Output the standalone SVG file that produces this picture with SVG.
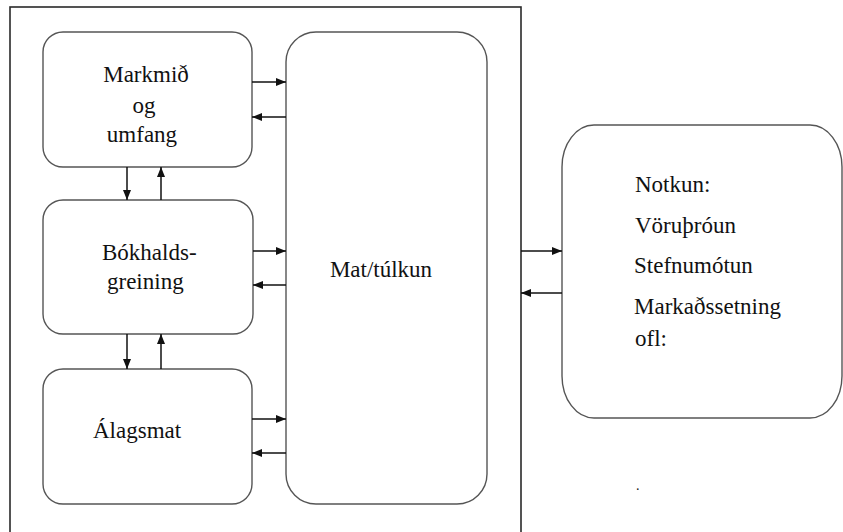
<svg xmlns="http://www.w3.org/2000/svg" width="843" height="532" viewBox="0 0 843 532">
  <style>
    .box { fill: #ffffff; stroke: #555555; stroke-width: 1.4; }
    .frame { fill: none; stroke: #2a2a2a; stroke-width: 1.6; }
    .link { fill: none; stroke: #111111; stroke-width: 1.5; marker-end: url(#head); }
    .label { font-family: 'Liberation Serif', 'Times New Roman', serif; font-size: 23px; fill: #111111; }
    .mid { text-anchor: middle; }
  </style>
  <defs>
    <marker id="head" viewBox="0 0 10 10" refX="10" refY="5" markerWidth="10" markerHeight="8" markerUnits="userSpaceOnUse" orient="auto" preserveAspectRatio="none">
      <path d="M0,0 L10,5 L0,10 Z" fill="#111111"/>
    </marker>
  </defs>
  <rect width="843" height="532" fill="#ffffff"/>

  <!-- enclosing frame around the analysis steps -->
  <rect class="frame" x="10" y="7" width="511" height="540"/>

  <g id="markmid">
    <rect class="box" x="43" y="32" width="209" height="135" rx="20" ry="20"/>
    <text class="label mid" x="146" y="82">Markmið</text>
    <text class="label mid" x="144" y="113">og</text>
    <text class="label mid" x="142" y="142">umfang</text>
  </g>

  <g id="bokhald">
    <rect class="box" x="43" y="200" width="210" height="134" rx="20" ry="20"/>
    <text class="label" x="102" y="260">Bókhalds-</text>
    <text class="label" x="107" y="289">greining</text>
  </g>

  <g id="alagsmat">
    <rect class="box" x="43" y="369" width="209" height="135" rx="20" ry="20"/>
    <text class="label" x="93" y="438">Álagsmat</text>
  </g>

  <g id="mat">
    <rect class="box" x="286" y="32" width="201" height="472" rx="30" ry="30"/>
    <text class="label mid" x="381" y="277">Mat/túlkun</text>
  </g>

  <g id="notkun">
    <rect class="box" x="562" y="125" width="280" height="293" rx="32" ry="42"/>
    <text class="label" x="635" y="192">Notkun:</text>
    <text class="label" x="635" y="233">Vöruþróun</text>
    <text class="label" x="634" y="273">Stefnumótun</text>
    <text class="label" x="634" y="314">Markaðssetning</text>
    <text class="label" x="635" y="346">ofl:</text>
    <text class="label" x="636" y="490" fill="#888888" style="font-size:14px">.</text>
  </g>

  <g id="connectors">
    <!-- vertical links between the left-hand steps -->
    <line class="link" x1="127" y1="167" x2="127" y2="200"/>
    <line class="link" x1="161" y1="200" x2="161" y2="167"/>
    <line class="link" x1="127" y1="334" x2="127" y2="369"/>
    <line class="link" x1="161" y1="369" x2="161" y2="334"/>
    <!-- links to and from Mat/túlkun -->
    <line class="link" x1="252" y1="82" x2="286" y2="82"/>
    <line class="link" x1="286" y1="117" x2="252" y2="117"/>
    <line class="link" x1="253" y1="251" x2="286" y2="251"/>
    <line class="link" x1="286" y1="285" x2="253" y2="285"/>
    <line class="link" x1="252" y1="419" x2="286" y2="419"/>
    <line class="link" x1="286" y1="453" x2="252" y2="453"/>
    <!-- links between the frame and Notkun -->
    <line class="link" x1="521" y1="251" x2="562" y2="251"/>
    <line class="link" x1="562" y1="293" x2="521" y2="293"/>
  </g>
</svg>
